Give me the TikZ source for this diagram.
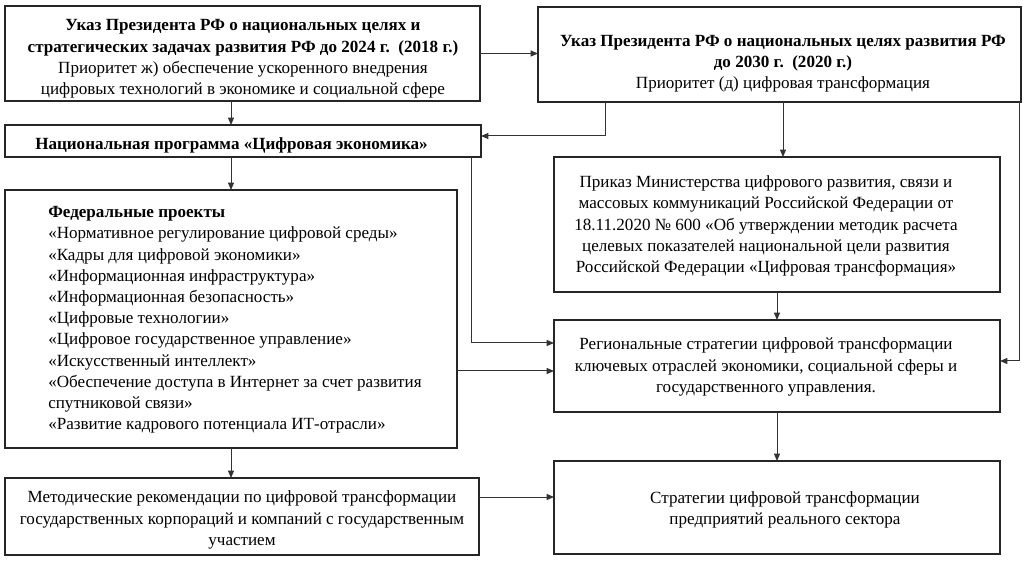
\documentclass[tikz,border=0pt]{standalone}
\usepackage{fontspec}
\setmainfont{Liberation Serif}
\usetikzlibrary{arrows.meta,calc}
\begin{document}
\begin{tikzpicture}[x=0.75pt,y=-0.75pt,
  box/.style={draw=black!85,line width=1pt,inner sep=0pt,outer sep=0pt},
  txt/.style={inner sep=0pt,font=\fontsize{12.8pt}{15.9pt}\selectfont},
  arr/.style={draw=black!80,line width=0.75pt,-{Triangle[length=5.5pt,width=4.5pt]}},
  ln/.style={draw=black!80,line width=0.75pt}]
\useasboundingbox (0,0) rectangle (1033,563);
% boxes
\node[box,minimum width=475*0.75pt,minimum height=95*0.75pt] (A) at (242.5,53.5) {};
\node[box,minimum width=483*0.75pt,minimum height=95*0.75pt] (B) at (779.5,54.5) {};
\node[box,minimum width=476*0.75pt,minimum height=32*0.75pt] (C) at (243,141) {};
\node[box,minimum width=452*0.75pt,minimum height=258*0.75pt] (D) at (231,319) {};
\node[box,minimum width=446*0.75pt,minimum height=135*0.75pt] (E) at (777,224.5) {};
\node[box,minimum width=446*0.75pt,minimum height=92*0.75pt] (F) at (777,366) {};
\node[box,minimum width=474*0.75pt,minimum height=77*0.75pt] (G) at (242,516.5) {};
\node[box,minimum width=446*0.75pt,minimum height=93*0.75pt] (H) at (777,507.5) {};
% texts
\node[txt,align=center] (tA) at (243,59) {\textbf{Указ Президента РФ о национальных целях и}\\\textbf{стратегических задачах развития РФ до 2024 г.~~(2018 г.)}\\Приоритет ж) обеспечение ускоренного внедрения\\цифровых технологий в экономике и социальной сфере};
\node[txt,align=center] (tB) at (783,64) {\textbf{Указ Президента РФ о национальных целях развития РФ}\\\textbf{до 2030 г.~~(2020 г.)}\\Приоритет (д) цифровая трансформация};
\node[txt,anchor=west] (tC) at (35,145) {\textbf{Национальная программа «Цифровая экономика»}};
\node[txt,anchor=west,align=left] (tD) at (48,320) {\textbf{Федеральные проекты}\\«Нормативное регулирование цифровой среды»\\«Кадры для цифровой экономики»\\«Информационная инфраструктура»\\«Информационная безопасность»\\«Цифровые технологии»\\«Цифровое государственное управление»\\«Искусственный интеллект»\\«Обеспечение доступа в Интернет за счет развития\\спутниковой связи»\\«Развитие кадрового потенциала ИТ-отрасли»};
\node[txt,align=center] (tE) at (766,226) {Приказ Министерства цифрового развития, связи и\\массовых коммуникаций Российской Федерации от\\18.11.2020 № 600 «Об утверждении методик расчета\\целевых показателей национальной цели развития\\Российской Федерации «Цифровая трансформация»};
\node[txt,align=center] (tF) at (766,367) {Региональные стратегии цифровой трансформации\\ключевых отраслей экономики, социальной сферы и\\государственного управления.};
\node[txt,align=center] (tG) at (242,520) {Методические рекомендации по цифровой трансформации\\государственных корпораций и компаний с государственным\\участием};
\node[txt,align=center] (tH) at (785,510) {Стратегии цифровой трансформации\\предприятий реального сектора};
% connectors
\draw[arr] (A.east) -- (A.east -| B.west);
\draw[arr] (A.south -| D.north) -- (C.north -| D.north);
\draw[arr] (C.south -| D.north) -- (D.north);
\draw[arr] (D.south) -- (G.north -| D.south);
\coordinate (bc) at ($(C.east)+(0,-5)$);
\draw[arr] ($(B.south)+(-174.5,0)$) |- (bc);
\coordinate (be) at ($(E.north)+(6,0)$);
\draw[arr] (B.south -| be) -- (be);
\coordinate (bf) at ($(F.east)+(0,-5)$);
\draw[arr] ($(B.south east)+(-1.5,0)$) |- (bf);
\draw[arr] (E.south) -- (F.north);
\coordinate (cf) at ($(F.west)+(0,-23)$);
\draw[arr] ($(C.south)+(228,0)$) |- (cf);
\coordinate (df) at ($(F.west)+(0,5)$);
\draw[arr] (D.east |- df) -- (df);
\draw[arr] (F.south) -- (H.north);
\coordinate (gh) at ($(G.east)+(0,-19.5)$);
\draw[arr] (gh) -- (gh -| H.west);
\end{tikzpicture}
\end{document}
